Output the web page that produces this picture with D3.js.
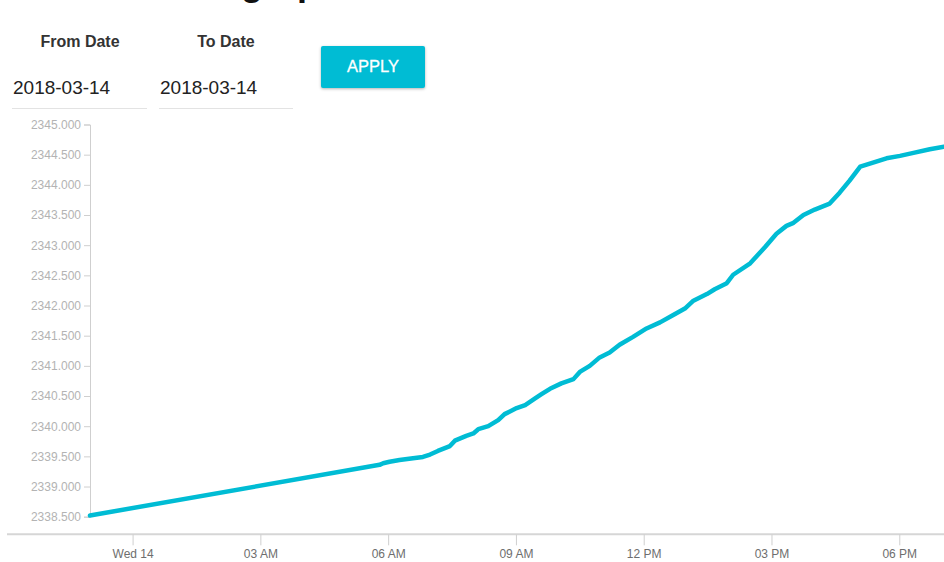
<!DOCTYPE html>
<html>
<head>
<meta charset="utf-8">
<script src="https://cdn.jsdelivr.net/npm/d3@7"></script>
<style>
  html, body { margin: 0; padding: 0; background: #fff; }
  body { width: 944px; height: 562px; overflow: hidden; font-family: "Helvetica Neue", Helvetica, "Liberation Sans", Arial, sans-serif; }
  #wrap { position: relative; width: 944px; height: 562px; overflow: hidden; }
  svg { position: absolute; left: 0; top: 0; }
  .field-label { position: absolute; top: 33px; font-weight: bold; font-size: 16px; color: #333; transform: translateX(-50%); white-space: nowrap; }
  .field-input { position: absolute; top: 75px; height: 34px; border-bottom: 1px solid #e3e3e3; font-size: 19px; color: #222; box-sizing: border-box; padding-left: 1px; line-height: 26px; }
  .btn { position: absolute; left: 321px; top: 46px; width: 104px; height: 42px; background: #00BCD4; color: #fff; font-size: 16.5px; border-radius: 2px; box-shadow: 0 1px 3px rgba(0,0,0,0.3); text-align: center; line-height: 40px; -webkit-text-stroke: 0.3px #fff; }
  .y-axis text { fill: #b3b3b3; font-size: 12px; }
  .y-axis line, .y-axis path { stroke: #cfcfcf; }
  .x-axis text { fill: #6e6e6e; font-size: 12px; }
  .x-axis line { stroke: #cfcfcf; }
  .x-axis path { stroke: #d6d6d6; stroke-width: 2px; }
</style>
</head>
<body>
<div id="wrap"></div>
<script>
// ---- data ----
const titleText = "Meter graph";
const fromLabel = "From Date";
const toLabel = "To Date";
const fromDate = "2018-03-14";
const toDate = "2018-03-14";
const buttonLabel = "APPLY";

const times = [
  "2018-03-13 23:00", "2018-03-14 05:48", "2018-03-14 05:53", "2018-03-14 06:02",
  "2018-03-14 06:16", "2018-03-14 06:35", "2018-03-14 06:49", "2018-03-14 06:59",
  "2018-03-14 07:10", "2018-03-14 07:27", "2018-03-14 07:34", "2018-03-14 07:50",
  "2018-03-14 08:00", "2018-03-14 08:07", "2018-03-14 08:21", "2018-03-14 08:35",
  "2018-03-14 08:44", "2018-03-14 09:01", "2018-03-14 09:13", "2018-03-14 09:27",
  "2018-03-14 09:36", "2018-03-14 09:48", "2018-03-14 10:04", "2018-03-14 10:21",
  "2018-03-14 10:30", "2018-03-14 10:44", "2018-03-14 10:58", "2018-03-14 11:12",
  "2018-03-14 11:26", "2018-03-14 11:45", "2018-03-14 12:04", "2018-03-14 12:23",
  "2018-03-14 12:41", "2018-03-14 12:58", "2018-03-14 13:10", "2018-03-14 13:29",
  "2018-03-14 13:40", "2018-03-14 13:57", "2018-03-14 14:06", "2018-03-14 14:30",
  "2018-03-14 14:51", "2018-03-14 15:07", "2018-03-14 15:21", "2018-03-14 15:31",
  "2018-03-14 15:45", "2018-03-14 16:01", "2018-03-14 16:22", "2018-03-14 16:36",
  "2018-03-14 16:50", "2018-03-14 17:05", "2018-03-14 17:23", "2018-03-14 17:42",
  "2018-03-14 18:01", "2018-03-14 18:20", "2018-03-14 18:43", "2018-03-14 19:03"
];
const readings = [
  2338.52, 2339.36, 2339.385, 2339.41,
  2339.44, 2339.47, 2339.49, 2339.53,
  2339.59, 2339.67, 2339.76, 2339.84,
  2339.88, 2339.95, 2340.00, 2340.10,
  2340.20, 2340.30, 2340.35, 2340.46,
  2340.53, 2340.62, 2340.71, 2340.78,
  2340.90, 2341.00, 2341.14, 2341.22,
  2341.35, 2341.48, 2341.62, 2341.72,
  2341.84, 2341.95, 2342.08, 2342.19,
  2342.27, 2342.37, 2342.51, 2342.70,
  2342.97, 2343.19, 2343.32, 2343.37,
  2343.50, 2343.59, 2343.69, 2343.87,
  2344.07, 2344.30, 2344.37, 2344.44,
  2344.48, 2344.53, 2344.59, 2344.63
];
const yTicks = [2338.5, 2339, 2339.5, 2340, 2340.5, 2341, 2341.5, 2342, 2342.5, 2343, 2343.5, 2344, 2344.5, 2345];
const yDomain = [2338.5, 2345];

// ---- layout ----
const W = 944, H = 562;
const plot = { left: 90, right: 944, top: 124.5, bottom: 516.7, axisY: 534.3 };
const lineColor = "#00BCD4";

const parse = d3.timeParse("%Y-%m-%d %H:%M");
const data = times.map((t, i) => ({ t: parse(t), v: readings[i] }));

const wrap = d3.select("#wrap");

// form controls
wrap.append("div").attr("class", "field-label").style("left", "80px").text(fromLabel);
wrap.append("div").attr("class", "field-label").style("left", "226px").text(toLabel);
wrap.append("div").attr("class", "field-input").style("left", "12px").style("width", "135px").text(fromDate);
wrap.append("div").attr("class", "field-input").style("left", "159px").style("width", "134px").text(toDate);
wrap.append("div").attr("class", "btn").text(buttonLabel);

const svg = wrap.append("svg").attr("width", W).attr("height", H);

// partially visible title at top (scrolled off the top edge in the reference)
svg.append("text")
  .attr("x", 341).attr("y", -5)
  .attr("text-anchor", "end")
  .attr("font-size", 36).attr("font-weight", "bold")
  .attr("fill", "#111")
  .text(titleText);

const x = d3.scaleTime().domain(d3.extent(data, d => d.t)).range([plot.left, plot.right]);
const y = d3.scaleLinear().domain(yDomain).range([plot.bottom, plot.top]);

const fmtHour = d3.timeFormat("%I %p");
const fmtDay = d3.timeFormat("%a %d");
const xAxis = d3.axisBottom(x)
  .ticks(d3.timeHour.every(3))
  .tickSize(11).tickPadding(4)
  .tickFormat(d => (d3.timeDay(d) < d ? fmtHour(d) : fmtDay(d)));

const gx = svg.append("g").attr("class", "x-axis")
  .attr("transform", `translate(0,${plot.axisY})`)
  .call(xAxis);
gx.select(".domain").attr("d", `M7,0H${W}`);

const yAxis = d3.axisLeft(y).tickValues(yTicks).tickFormat(d3.format(".3f")).tickSize(6).tickPadding(3);
svg.append("g").attr("class", "y-axis")
  .attr("transform", `translate(${plot.left},0)`)
  .call(yAxis);

const line = d3.line().x(d => x(d.t)).y(d => y(d.v));
svg.append("path")
  .datum(data)
  .attr("fill", "none")
  .attr("stroke", lineColor)
  .attr("stroke-width", 4.5)
  .attr("stroke-linejoin", "round")
  .attr("stroke-linecap", "round")
  .attr("d", line);
</script>
</body>
</html>
